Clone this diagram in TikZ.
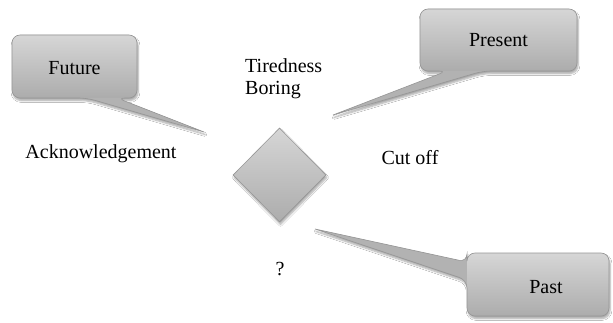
\documentclass[tikz,border=0pt]{standalone}
\usepackage{fontspec}
\setmainfont{Liberation Serif}
\usetikzlibrary{shapes.geometric,shadows.blur}

\definecolor{boxtop}{RGB}{214,214,214}
\definecolor{boxbottom}{RGB}{172,172,172}
\definecolor{tailgray}{RGB}{178,178,178}
\definecolor{boxline}{RGB}{150,150,150}

\tikzset{
  softshadow/.style={blur shadow={shadow xshift=1pt, shadow yshift=-2.5pt,
                     shadow blur steps=6, shadow opacity=35}},
  tailfill/.style={fill=tailgray, softshadow},
  boxshade/.style={top color=boxtop, bottom color=boxbottom, rounded corners=8pt},
  outline/.style={draw=boxline, line width=0.6pt},
  lbl/.style={font=\fontsize{20}{22}\selectfont, inner sep=0pt, text=black},
}

\begin{document}
\begin{tikzpicture}[x=1pt, y=-1pt]
  \useasboundingbox (0,0) rectangle (613,323);
  \fill[white] (0,0) rectangle (613,323);

  % Future bubble: filled body with tail, shaded box, then the outline
  \path[tailfill] (204,132) [rounded corners=8pt] -- (87,98) -- (12,98)
      -- (12,35) -- (137,35) -- (137,98) -- (117,98) [sharp corners] -- cycle;
  \path[boxshade] (12,35) rectangle (137,98);
  \path[outline] (204,132) [rounded corners=8pt] -- (87,98) -- (12,98)
      -- (12,35) -- (137,35) -- (137,98) -- (117,98) [sharp corners] -- cycle;

  % Present bubble
  \path[tailfill] (333,115) [rounded corners=8pt] -- (483,71) -- (577,71)
      -- (577,9) -- (420,9) -- (420,71) -- (447,71) [sharp corners] -- cycle;
  \path[boxshade] (420,9) rectangle (577,71);
  \path[outline] (333,115) [rounded corners=8pt] -- (483,71) -- (577,71)
      -- (577,9) -- (420,9) -- (420,71) -- (447,71) [sharp corners] -- cycle;

  % Past bubble
  \path[tailfill] (315,229) [rounded corners=8pt] -- (467,280) -- (467,316)
      -- (609,316) -- (609,253) -- (467,253) -- (467,262) [sharp corners] -- cycle;
  \path[boxshade] (467,253) rectangle (609,316);
  \path[outline] (315,229) [rounded corners=8pt] -- (467,280) -- (467,316)
      -- (609,316) -- (609,253) -- (467,253) -- (467,262) [sharp corners] -- cycle;

  % central diamond
  \node[diamond, outline, top color=boxtop, bottom color=boxbottom, softshadow,
        inner sep=0pt, minimum width=93pt, minimum height=94pt]
    (core) at (279.5,175) {};

  % bubble labels
  \node[lbl, anchor=base] (future)  at (74.5,75)  {Future};
  \node[lbl, anchor=base] (present) at (498.5,47) {Present};
  \node[lbl, anchor=base] (past)    at (546,293)  {Past};

  % free labels
  \node[lbl, anchor=base west] (tired)  at (245,73)  {Tiredness};
  \node[lbl, anchor=base west] (boring) at (245,95)  {Boring};
  \node[lbl, anchor=base] (ack)    at (101,159) {Acknowledgement};
  \node[lbl, anchor=base] (cutoff) at (410,165) {Cut off};
  \node[lbl, anchor=base] (quest)  at (280,275) {?};
\end{tikzpicture}
\end{document}
